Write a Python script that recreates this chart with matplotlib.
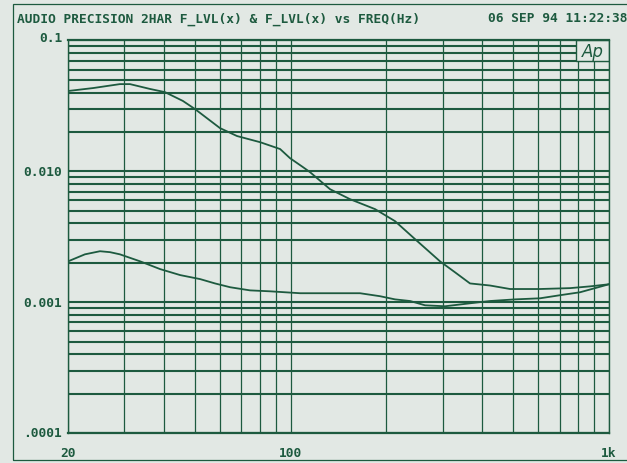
import matplotlib.pyplot as plt
from matplotlib.patches import Rectangle

# colours of the plotter output
bg = '#e2e8e4'
ink = '#1d5a3f'

# upper trace
freq_a = [20, 24.0, 29.1, 31.3, 36.2, 40.3, 45.9, 50.1, 60.0, 67.9, 80.2, 92.7,
          99.6, 109.4, 115.1, 133, 153.8, 184.2, 212.8, 246, 294.7, 328.5, 366,
          423, 489, 607, 755, 872, 1000]
level_a = [0.0411, 0.0433, 0.0464, 0.0464, 0.0426, 0.0403, 0.0345, 0.0299,
           0.0214, 0.0186, 0.0167, 0.0148, 0.0126, 0.01076, 0.00985, 0.0073,
           0.00612, 0.00514, 0.00416, 0.00303, 0.00205, 0.00169, 0.00139,
           0.00134, 0.00126, 0.00126, 0.00128, 0.00132, 0.00137]

# lower trace
freq_b = [20, 22.6, 25.2, 27.1, 29.1, 33.7, 38.9, 45.0, 52.0, 57.9, 64.6, 74.6,
          86.2, 107.1, 165.2, 191, 212.8, 237.3, 264.4, 305.5, 366, 423, 507,
          607, 702, 811, 904, 1000]
level_b = [0.00205, 0.00232, 0.00245, 0.00241, 0.00232, 0.00205, 0.00179,
           0.00161, 0.0015, 0.00139, 0.0013, 0.00123, 0.00121, 0.00117,
           0.00117, 0.00111, 0.00105, 0.00102, 0.000946, 0.00093, 0.00098,
           0.00102, 0.00105, 0.00107, 0.00113, 0.00119, 0.00128, 0.00137]

# grid and ticks
x_grid = [20, 30, 40, 50, 60, 70, 80, 90, 100, 200, 300, 400, 500, 600, 700,
          800, 900, 1000]
y_grid = [k * 10.0 ** e for e in (-4, -3, -2) for k in range(1, 10)] + [0.1]
x_ticks = [20, 100, 1000]
x_labels = ['20', '100', '1k']
y_ticks = [0.1, 0.01, 0.001, 0.0001]
y_labels = ['0.1', '0.010', '0.001', '.0001']

# logo box corner values
logo_f = [790, 1000]
logo_v = [0.07, 0.1]

mono = dict(family='DejaVu Sans Mono', weight='bold', color=ink)

fig = plt.figure(figsize=(6.27, 4.64), dpi=100, facecolor=bg)
ax = fig.add_axes([0.1085, 0.0647, 0.8628, 0.8459])
ax.set_facecolor(bg)
ax.set_xscale('log')
ax.set_yscale('log')
ax.set_xlim(20, 1000)
ax.set_ylim(1e-4, 0.1)

# grid lines
ax.vlines(x_grid, 1e-4, 0.1, color=ink, lw=0.9, zorder=1)
ax.hlines(y_grid, 20, 1000, color=ink, lw=1.5, zorder=1)

# the "Ap" box in the corner
ax.add_patch(Rectangle((logo_f[0], logo_v[0]), logo_f[1] - logo_f[0],
                       logo_v[1] - logo_v[0], facecolor=bg, edgecolor=ink,
                       lw=1.0, zorder=2))
ax.text((logo_f[0] * logo_f[1]) ** 0.5, (logo_v[0] * logo_v[1]) ** 0.5, 'Ap',
        style='italic', fontsize=12, color=ink, ha='center', va='center',
        family='DejaVu Sans', zorder=3)

# traces
ax.plot(freq_a, level_a, color=ink, lw=1.3, zorder=3)
ax.plot(freq_b, level_b, color=ink, lw=1.3, zorder=3)

# frame
for side in ['left', 'right']:
    ax.spines[side].set_color(ink)
    ax.spines[side].set_linewidth(1.0)
for side in ['top', 'bottom']:
    ax.spines[side].set_color(ink)
    ax.spines[side].set_linewidth(1.6)

ax.set_xticks([])
ax.set_yticks([])
ax.minorticks_off()

# tick labels
for v, lab in zip(y_ticks, y_labels):
    dy = 2.2 if v == 0.1 else 0
    ax.annotate(lab, xy=(0, v), xycoords=('axes fraction', 'data'),
                xytext=(-4.3, dy), textcoords='offset points',
                ha='right', va='center', fontsize=9.3, **mono)
for f, lab in zip(x_ticks, x_labels):
    ax.annotate(lab, xy=(f, 0), xycoords=('data', 'axes fraction'),
                xytext=(0, -13.7), textcoords='offset points',
                ha='center', va='center', fontsize=9.3, **mono)

# header
fig.text(17 / 627, 1 - 19 / 464,
         'AUDIO PRECISION 2HAR F_LVL(x) & F_LVL(x) vs FREQ(Hz)',
         ha='left', va='center', fontsize=9.3, **mono)
fig.text(1.0, 1 - 19 / 464, '06 SEP 94 11:22:38',
         ha='right', va='center', fontsize=9.3, **mono)

# outer border
fig.add_artist(Rectangle((13 / 627, 1 - 461 / 464), 1.0, 456 / 464,
                         transform=fig.transFigure, fill=False,
                         edgecolor=ink, lw=0.9))

fig.savefig('out.png', dpi=100, facecolor=bg)
